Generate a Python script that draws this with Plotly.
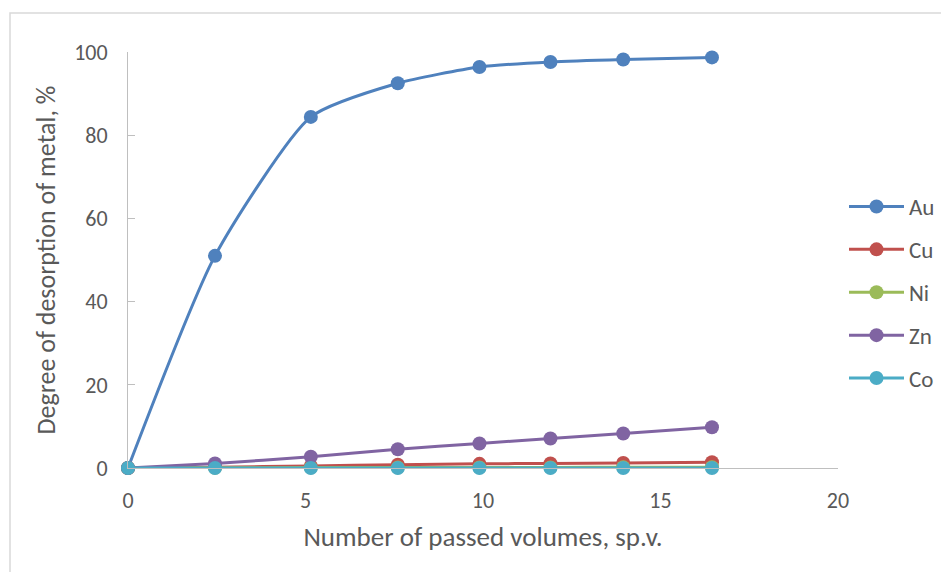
import plotly.graph_objects as go

volumes = [0, 2.45, 5.15, 7.6, 9.9, 11.9, 13.95, 16.45]
au = [0, 51.0, 84.4, 92.5, 96.4, 97.6, 98.2, 98.7]
cu = [0, 0.2, 0.5, 0.8, 1.0, 1.1, 1.2, 1.4]
ni = [0, 0.05, 0.1, 0.1, 0.15, 0.15, 0.2, 0.2]
zn = [0, 1.1, 2.7, 4.5, 5.9, 7.1, 8.3, 9.8]
co = [0, 0, 0, 0, 0, 0, 0, 0]

series = [("Au", au, "#4F81BD"), ("Cu", cu, "#C0504D"), ("Ni", ni, "#9BBB59"),
          ("Zn", zn, "#8064A2"), ("Co", co, "#4BACC6")]

FONT = "Carlito, Lato, 'Open Sans', sans-serif"
W, H = 949, 572
OFF = 8  # page body margin
L, T = 128 - OFF, 52 - OFF
R, B = W - (838 - OFF), H - (468 - OFF)
pw, ph = W - L - R, H - T - B

fig = go.Figure()
for name, vals, col in series:
    fig.add_trace(go.Scatter(
        x=volumes, y=vals, name=name, mode="lines+markers",
        line=dict(color=col, width=3, shape="spline", smoothing=0.6),
        marker=dict(color=col, size=14),
        legendgroup=name, cliponaxis=False,
    ))

fig.update_layout(
    width=W, height=H,
    margin=dict(l=L, r=R, t=T, b=B),
    paper_bgcolor="white", plot_bgcolor="white",
    font=dict(family=FONT, color="#595959", size=22),
    showlegend=True,
    legend=dict(x=(844 - OFF - L) / pw, y=(ph - (185 - OFF - T)) / ph, xanchor="left", yanchor="top",
                traceorder="grouped", tracegroupgap=10, itemwidth=55,
                font=dict(size=23, color="#595959"), bgcolor="rgba(0,0,0,0)"),
    xaxis=dict(range=[0, 20], dtick=5, showgrid=False, zeroline=False,
               showline=True, linecolor="#BFBFBF", linewidth=1, ticks="",
               tickfont=dict(size=22), ticklabelstandoff=13,
               title=dict(text="Number of passed volumes, sp.v.", font=dict(size=27), standoff=13)),
    yaxis=dict(range=[0, 100], dtick=20, showgrid=False, zeroline=False,
               showline=True, linecolor="#BFBFBF", linewidth=1,
               ticks="inside", ticklen=7, tickcolor="#BFBFBF",
               tickfont=dict(size=22), ticklabelstandoff=15,
               title=dict(text="Degree of desorption of metal, %", font=dict(size=26), standoff=11)),
    shapes=[dict(type="rect", xref="paper", yref="paper",
                 x0=(10 - OFF - L) / pw, x1=(W + 10 - L) / pw,
                 y0=-(H + 10 - T - ph) / ph, y1=1 + (T - (13 - OFF)) / ph,
                 line=dict(color="#D9D9D9", width=1.5), layer="below")],
)

fig.write_html("out.html")
